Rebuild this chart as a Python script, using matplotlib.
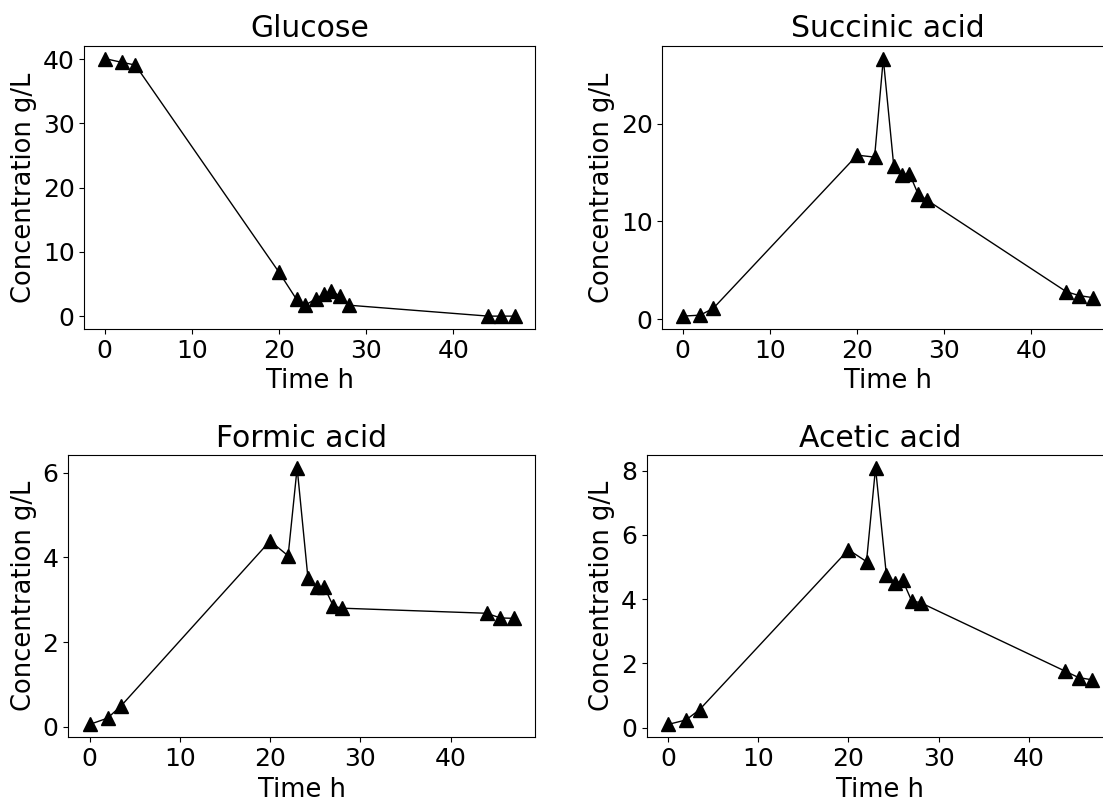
import matplotlib
matplotlib.use("Agg")
import matplotlib.pyplot as plt

time_h = [0, 2, 3.5, 20, 22, 23, 24.2, 25.2, 26, 27, 28, 44, 45.5, 47]

glucose = [40.1, 39.5, 39.1, 6.8, 2.6, 1.7, 2.7, 3.5, 3.9, 3.1, 1.7, 0.0, 0.0, 0.0]
succinic = [0.3, 0.4, 1.1, 16.8, 16.6, 26.7, 15.7, 14.8, 14.9, 12.8, 12.2, 2.8, 2.4, 2.2]
formic = [0.05, 0.2, 0.49, 4.39, 4.04, 6.12, 3.51, 3.3, 3.31, 2.85, 2.8, 2.68, 2.57, 2.56]
acetic = [0.1, 0.24, 0.56, 5.54, 5.17, 8.09, 4.76, 4.49, 4.59, 3.95, 3.89, 1.76, 1.56, 1.49]

titles = ["Glucose", "Succinic acid", "Formic acid", "Acetic acid"]
series = [glucose, succinic, formic, acetic]

W, H = 1103, 798
fig = plt.figure(figsize=(W / 100, H / 100), dpi=100)

# axes boxes in pixels: left, top, right, bottom
boxes = [
    (84.3, 45.7, 535.0, 329.0),
    (662.3, 45.7, 1113.0, 329.0),
    (68.3, 455.0, 535.0, 737.3),
    (646.7, 455.0, 1113.4, 737.3),
]

for (l, t, r, b), title, vals in zip(boxes, titles, series):
    ax = fig.add_axes([l / W, (H - b) / H, (r - l) / W, (b - t) / H])
    ax.plot(time_h, vals, color="black", linewidth=1.0, marker="^", markersize=9.5)
    ax.set_title(title, fontsize=21.5)
    ax.set_xlabel("Time h", fontsize=18.5)
    ax.set_ylabel("Concentration g/L", fontsize=18.5)
    ax.tick_params(labelsize=18)
    ax.set_xticks([0, 10, 20, 30, 40])

fig.savefig("out.png", dpi=100)
